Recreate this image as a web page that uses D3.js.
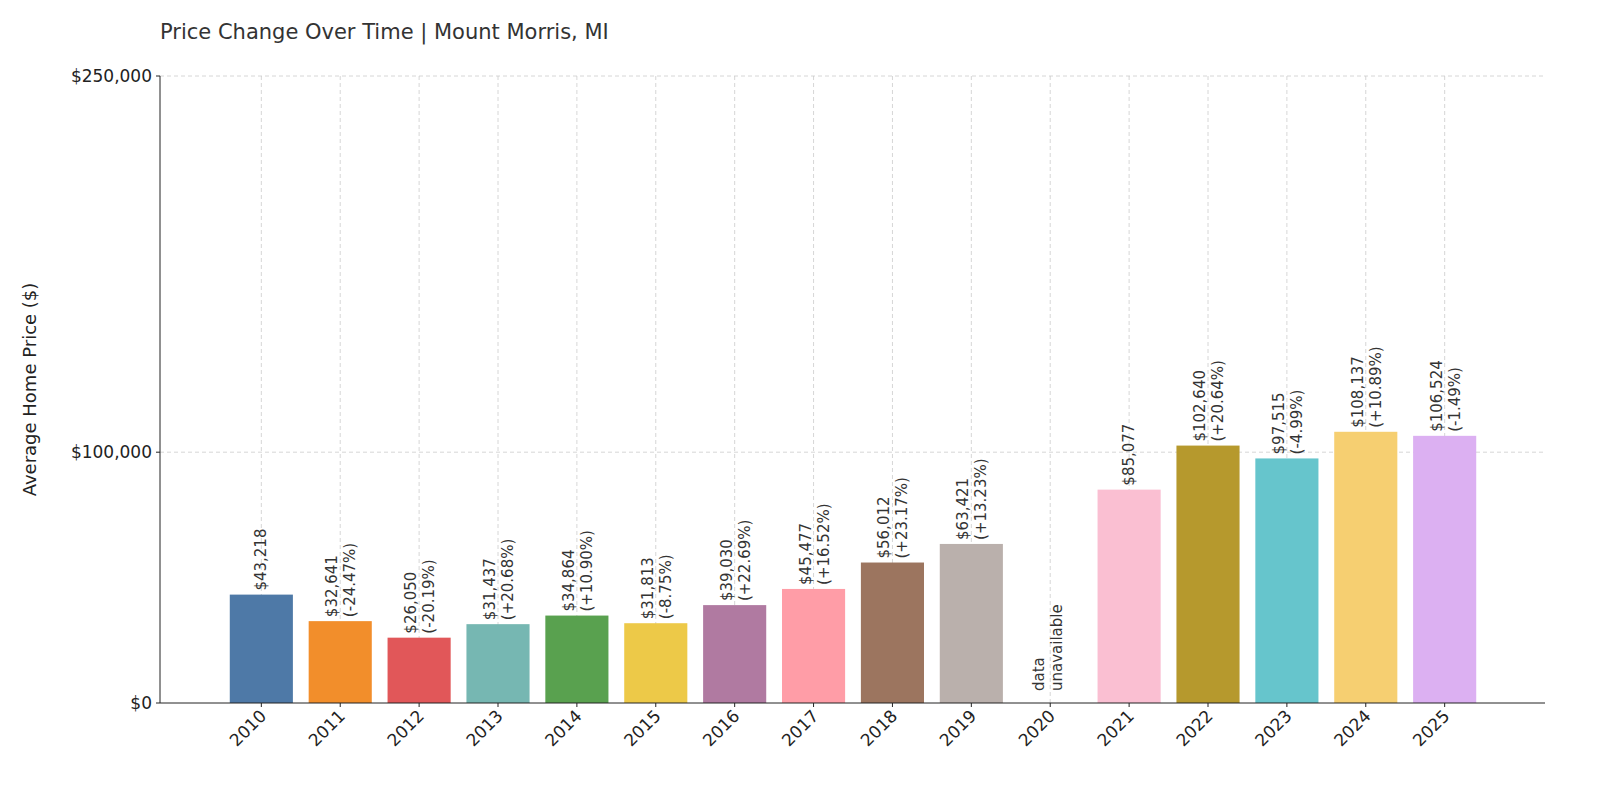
<!DOCTYPE html>
<html>
<head>
<meta charset="utf-8">
<script src="https://cdn.jsdelivr.net/npm/d3@7"></script>
<style>
  body { margin: 0; background: #fff; }
  text { font-family: "DejaVu Sans", sans-serif; }
</style>
</head>
<body>
<svg id="chart" width="1600" height="800"></svg>
<script>
// data
var years = ["2010","2011","2012","2013","2014","2015","2016","2017","2018","2019","2020","2021","2022","2023","2024","2025"];
var prices = [43218, 32641, 26050, 31437, 34864, 31813, 39030, 45477, 56012, 63421, null, 85077, 102640, 97515, 108137, 106524];
var changes = ["", "(-24.47%)", "(-20.19%)", "(+20.68%)", "(+10.90%)", "(-8.75%)", "(+22.69%)", "(+16.52%)", "(+23.17%)", "(+13.23%)", "", "", "(+20.64%)", "(-4.99%)", "(+10.89%)", "(-1.49%)"];
var colors = ["#4e79a7","#f28e2b","#e15759","#76b7b2","#59a14f","#edc948","#b07aa1","#ff9da7","#9c755f","#bab0ac","#cccccc","#fabfd2","#b6992d","#66c5cc","#f6cf71","#dcb0f2"];
var yTicks = [0, 100000, 250000];

var svg = d3.select("#chart");
var pL = 160, pR = 1545, pT = 76, pB = 703;

var x = d3.scaleBand().domain(years).range([214, 1492]).padding(0.2);
var y = d3.scaleLinear().domain([0, 250000]).range([pB, pT]);
var fmt = d3.format("$,");

// grid
svg.append("g").selectAll("line").data(years).enter().append("line")
    .attr("x1", d => x(d) + x.bandwidth() / 2).attr("x2", d => x(d) + x.bandwidth() / 2)
    .attr("y1", pT).attr("y2", pB)
    .attr("stroke", "#ccc").attr("stroke-dasharray", "4,3").attr("stroke-width", 0.8);
svg.append("g").selectAll("line").data(yTicks.slice(1)).enter().append("line")
    .attr("x1", pL).attr("x2", pR)
    .attr("y1", d => y(d)).attr("y2", d => y(d))
    .attr("stroke", "#ccc").attr("stroke-dasharray", "4,3").attr("stroke-width", 0.8);

// bars
var rows = years.map((yr, i) => ({ year: yr, price: prices[i], change: changes[i], color: colors[i] }));
svg.append("g").selectAll("rect").data(rows.filter(d => d.price != null)).enter().append("rect")
    .attr("x", d => x(d.year)).attr("width", x.bandwidth())
    .attr("y", d => y(d.price)).attr("height", d => pB - y(d.price))
    .attr("fill", d => d.color);

// labels
rows.forEach(d => {
    var cx = x(d.year) + x.bandwidth() / 2;
    if (d.price == null) {
        var t = svg.append("text").attr("transform", "translate(" + cx + "," + (pB - 12) + ") rotate(-90)")
            .attr("font-size", 15).attr("fill", "#333");
        t.append("tspan").attr("x", 0).attr("dy", -6).text("data");
        t.append("tspan").attr("x", 0).attr("dy", 18).text("unavailable");
        return;
    }
    var t = svg.append("text").attr("transform", "translate(" + cx + "," + (y(d.price) - 4) + ") rotate(-90)")
        .attr("font-size", 15).attr("fill", "#333");
    if (d.change) {
        t.append("tspan").attr("x", 0).attr("dy", -3).text(fmt(d.price));
        t.append("tspan").attr("x", 0).attr("dy", 18).text(d.change);
    } else {
        t.append("tspan").attr("x", 0).attr("dy", 5).text(fmt(d.price));
    }
});

// axes
svg.append("line").attr("x1", pL).attr("x2", pL).attr("y1", pT).attr("y2", pB).attr("stroke", "#222");
svg.append("line").attr("x1", pL).attr("x2", pR).attr("y1", pB).attr("y2", pB).attr("stroke", "#222");

svg.append("g").selectAll("text").data(yTicks).enter().append("text")
    .attr("x", pL - 8).attr("y", d => y(d) + 6)
    .attr("text-anchor", "end").attr("font-size", 17).attr("fill", "#222")
    .text(d => fmt(d));
svg.append("g").selectAll("line").data(yTicks).enter().append("line")
    .attr("x1", pL - 4).attr("x2", pL).attr("y1", d => y(d)).attr("y2", d => y(d)).attr("stroke", "#222");

svg.append("g").selectAll("text").data(years).enter().append("text")
    .attr("transform", d => "translate(" + (x(d) + x.bandwidth() / 2 + 6) + "," + (pB + 14) + ") rotate(-45)")
    .attr("text-anchor", "end").attr("font-size", 17).attr("fill", "#222")
    .text(d => d);
svg.append("g").selectAll("line").data(years).enter().append("line")
    .attr("x1", d => x(d) + x.bandwidth() / 2).attr("x2", d => x(d) + x.bandwidth() / 2)
    .attr("y1", pB).attr("y2", pB + 4).attr("stroke", "#222");

svg.append("text").attr("transform", "translate(36," + ((pT + pB) / 2) + ") rotate(-90)")
    .attr("text-anchor", "middle").attr("font-size", 18).attr("fill", "#222")
    .text("Average Home Price ($)");

svg.append("text").attr("x", pL).attr("y", 39)
    .attr("font-size", 21).attr("fill", "#333")
    .text("Price Change Over Time | Mount Morris, MI");
</script>
</body>
</html>
